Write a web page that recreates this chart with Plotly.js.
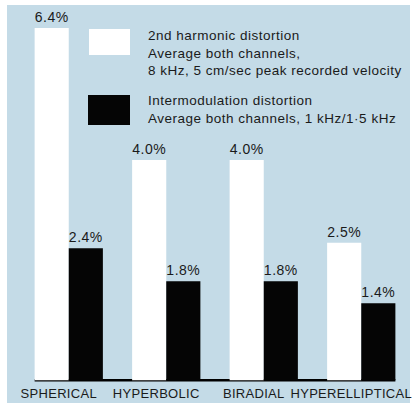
<!DOCTYPE html>
<html>
<head>
<meta charset="utf-8">
<script src="https://cdn.plot.ly/plotly-3.0.1.min.js"></script>
<style>
  html, body { margin: 0; padding: 0; background: #ffffff; width: 419px; height: 403px; overflow: hidden; }
  #chart { position: absolute; left: 7px; top: 5px; width: 403px; height: 398px; overflow: visible; }
  #chart .svg-container, #chart .main-svg { overflow: visible !important; }
  .annotation-text { letter-spacing: 0.5px; }
  .bartext { letter-spacing: 0.5px; }
  .xtick text { letter-spacing: 0.3px; }
</style>
</head>
<body>
<div id="chart"></div>
<script>
const categories = ["SPHERICAL", "HYPERBOLIC", "BIRADIAL", "HYPERELLIPTICAL"];
const harmonicValues = [6.4, 4.0, 4.0, 2.5];
const intermodValues = [2.4, 1.8, 1.8, 1.4];
const harmonicLabel = "2nd harmonic distortion<br>Average both channels,<br>8 kHz, 5 cm/sec peak recorded velocity";
const intermodLabel = "Intermodulation distortion<br>Average both channels, 1 kHz/1·5 kHz";

const W = 403, H = 398;
const M = { l: 13, r: 0, t: 1, b: 20 };
const PW = W - M.l - M.r, PH = H - M.t - M.b;
function px(x) { return (x - M.l) / PW; }
function py(y) { return 1 - (y - M.t) / PH; }

const FONT = "Liberation Sans, Arial, Helvetica, sans-serif";
const INK = "#1a1a1a";

const traces = [
  {
    type: "bar", name: "2nd harmonic distortion",
    x: categories, y: harmonicValues,
    marker: { color: "#ffffff", line: { width: 0 } },
    text: harmonicValues.map(v => v.toFixed(1) + "%"),
    textposition: "outside", cliponaxis: false,
    textfont: { family: FONT, size: 14, color: INK },
    hoverinfo: "none"
  },
  {
    type: "bar", name: "Intermodulation distortion",
    x: categories, y: intermodValues,
    marker: { color: "#050505", line: { width: 0 } },
    text: intermodValues.map(v => v.toFixed(1) + "%"),
    textposition: "outside", cliponaxis: false,
    textfont: { family: FONT, size: 14, color: INK },
    hoverinfo: "none"
  }
];

const layout = {
  width: W, height: H,
  margin: M,
  paper_bgcolor: "#c4dbe7",
  plot_bgcolor: "rgba(0,0,0,0)",
  barmode: "group",
  bargap: 0.3,
  bargroupgap: 0,
  showlegend: false,
  font: { family: FONT, color: INK },
  xaxis: {
    type: "category",
    range: [-0.5, 3.5],
    showgrid: false, zeroline: false, showline: false, ticks: "",
    tickfont: { family: FONT, size: 13, color: INK },
    ticklabelshift: -10,
    ticklabelstandoff: 1,
    fixedrange: true
  },
  yaxis: {
    range: [-0.05, 6.8],
    visible: false,
    fixedrange: true
  },
  shapes: [
    { type: "line", xref: "x", yref: "y", x0: -0.35, x1: 3.35, y0: 0, y1: 0,
      line: { color: "#000000", width: 2.5 }, layer: "below" },
    { type: "rect", xref: "paper", yref: "paper",
      x0: px(82), x1: px(123), y0: py(24), y1: py(50),
      fillcolor: "#ffffff", line: { width: 0 } },
    { type: "rect", xref: "paper", yref: "paper",
      x0: px(81), x1: px(123), y0: py(90), y1: py(120),
      fillcolor: "#050505", line: { width: 0 } }
  ],
  annotations: [
    { xref: "paper", yref: "paper", x: px(139), y: py(21), xanchor: "left", yanchor: "top",
      align: "left", showarrow: false, text: harmonicLabel,
      font: { family: FONT, size: 13.5, color: INK } },
    { xref: "paper", yref: "paper", x: px(139), y: py(86), xanchor: "left", yanchor: "top",
      align: "left", showarrow: false, text: intermodLabel,
      font: { family: FONT, size: 13.5, color: INK } }
  ]
};

Plotly.newPlot("chart", traces, layout, { displayModeBar: false, staticPlot: true });
</script>
</body>
</html>
